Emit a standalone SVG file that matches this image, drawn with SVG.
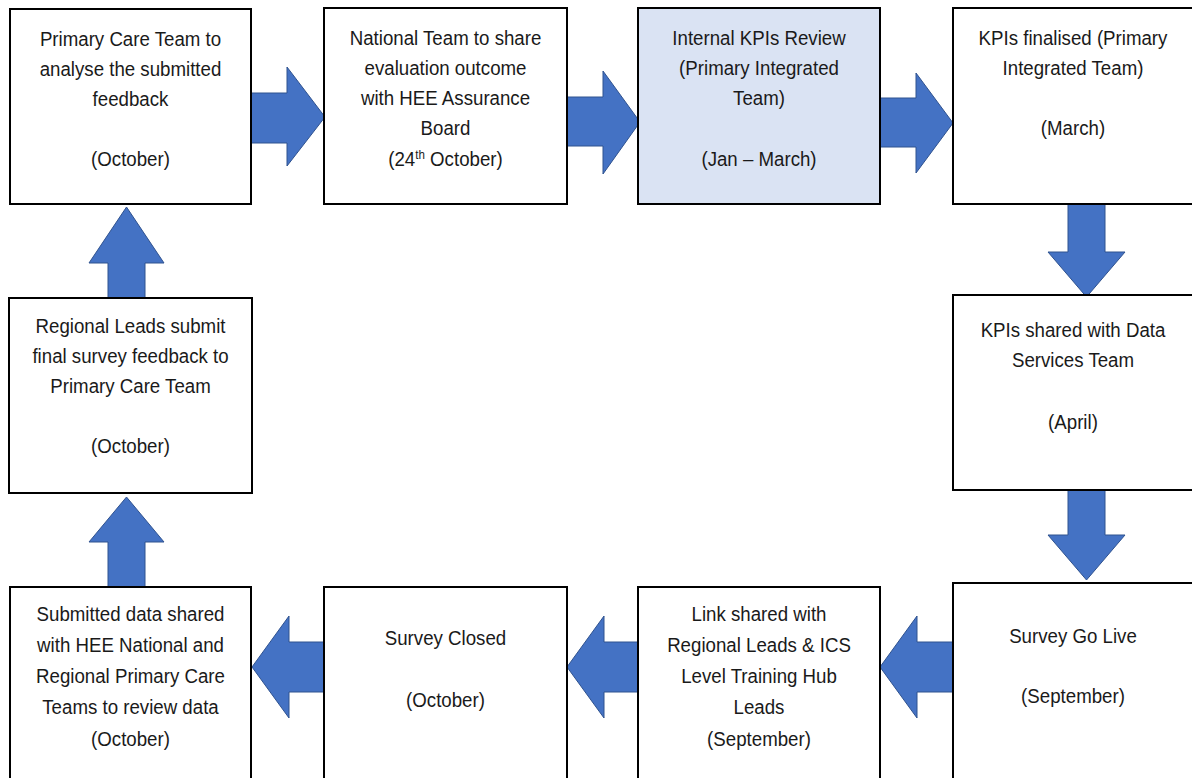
<svg xmlns="http://www.w3.org/2000/svg" width="1192" height="778" viewBox="0 0 1192 778">
<style>
.box{fill:#ffffff;stroke:#000000;stroke-width:2}
.hl{fill:#DAE3F3}
.arr{fill:#4472C4;stroke:#2F528F;stroke-width:1}
.t{font-family:"Liberation Sans",Arial,sans-serif;font-size:21px;fill:#1a1a1a;text-anchor:middle}
</style>
<rect width="1192" height="778" fill="#ffffff"/>
<g id="connectors">
<polygon class="arr" points="251,93 287,93 287,67 325,117 287,166 287,143 251,143"/>
<polygon class="arr" points="567,97 603,97 603,71 640,122 603,174 603,146 567,146"/>
<polygon class="arr" points="880,98 916,98 916,73 953,123 916,173 916,147 880,147"/>
<polygon class="arr" points="1068,204 1105,204 1105,252 1125,252 1086.5,297 1048,252 1068,252"/>
<polygon class="arr" points="1068,490 1105,490 1105,535 1125,535 1086.5,580 1048,535 1068,535"/>
<polygon class="arr" points="953,642 917,642 917,616 880,667 917,718 917,692 953,692"/>
<polygon class="arr" points="638,642 604,642 604,616 567,667 604,718 604,692 638,692"/>
<polygon class="arr" points="324,642 289,642 289,616 252,667 289,718 289,692 324,692"/>
<polygon class="arr" points="108,587 145,587 145,542 164,542 126.5,497 89,542 108,542"/>
<polygon class="arr" points="108,298 145,298 145,263 164,263 126.5,207 89,263 108,263"/>
</g>
<g id="n1">
<rect class="box" x="10" y="9" width="241" height="195"/>
<g transform="translate(130.5 0) scale(0.89 1)"><text class="t"><tspan x="0" y="46">Primary Care Team to</tspan><tspan x="0" y="76">analyse the submitted</tspan><tspan x="0" y="106">feedback</tspan><tspan x="0" y="166">(October)</tspan></text></g>
</g>
<g id="n2">
<rect class="box" x="324" y="8" width="243" height="196"/>
<g transform="translate(445.5 0) scale(0.89 1)"><text class="t"><tspan x="0" y="45">National Team to share</tspan><tspan x="0" y="75">evaluation outcome</tspan><tspan x="0" y="105">with HEE Assurance</tspan><tspan x="0" y="135">Board</tspan><tspan x="0" y="166">(24<tspan font-size="13" dy="-7">th</tspan><tspan dy="7"> October)</tspan></tspan></text></g>
</g>
<g id="n3">
<rect class="box hl" x="638" y="8" width="242" height="196"/>
<g transform="translate(759 0) scale(0.89 1)"><text class="t"><tspan x="0" y="45">Internal KPIs Review</tspan><tspan x="0" y="75">(Primary Integrated</tspan><tspan x="0" y="105">Team)</tspan><tspan x="0" y="166">(Jan – March)</tspan></text></g>
</g>
<g id="n4">
<rect class="box" x="953" y="8" width="245" height="196"/>
<g transform="translate(1073 0) scale(0.89 1)"><text class="t"><tspan x="0" y="45">KPIs finalised (Primary</tspan><tspan x="0" y="75">Integrated Team)</tspan><tspan x="0" y="135">(March)</tspan></text></g>
</g>
<g id="n5">
<rect class="box" x="953" y="295" width="245" height="195"/>
<g transform="translate(1073 0) scale(0.89 1)"><text class="t"><tspan x="0" y="337">KPIs shared with Data</tspan><tspan x="0" y="367">Services Team</tspan><tspan x="0" y="429">(April)</tspan></text></g>
</g>
<g id="n6">
<rect class="box" x="953" y="583" width="245" height="200"/>
<g transform="translate(1073 0) scale(0.89 1)"><text class="t"><tspan x="0" y="643">Survey Go Live</tspan><tspan x="0" y="703">(September)</tspan></text></g>
</g>
<g id="n7">
<rect class="box" x="638" y="587" width="242" height="196"/>
<g transform="translate(759 0) scale(0.89 1)"><text class="t"><tspan x="0" y="621">Link shared with</tspan><tspan x="0" y="652">Regional Leads &amp; ICS</tspan><tspan x="0" y="683">Level Training Hub</tspan><tspan x="0" y="714">Leads</tspan><tspan x="0" y="746">(September)</tspan></text></g>
</g>
<g id="n8">
<rect class="box" x="324" y="587" width="243" height="196"/>
<g transform="translate(445.5 0) scale(0.89 1)"><text class="t"><tspan x="0" y="645">Survey Closed</tspan><tspan x="0" y="707">(October)</tspan></text></g>
</g>
<g id="n9">
<rect class="box" x="10" y="587" width="241" height="196"/>
<g transform="translate(130.5 0) scale(0.89 1)"><text class="t"><tspan x="0" y="621">Submitted data shared</tspan><tspan x="0" y="652">with HEE National and</tspan><tspan x="0" y="683">Regional Primary Care</tspan><tspan x="0" y="714">Teams to review data</tspan><tspan x="0" y="746">(October)</tspan></text></g>
</g>
<g id="n10">
<rect class="box" x="9" y="298" width="243" height="195"/>
<g transform="translate(130.5 0) scale(0.89 1)"><text class="t"><tspan x="0" y="333">Regional Leads submit</tspan><tspan x="0" y="363">final survey feedback to</tspan><tspan x="0" y="393">Primary Care Team</tspan><tspan x="0" y="453">(October)</tspan></text></g>
</g>
</svg>
